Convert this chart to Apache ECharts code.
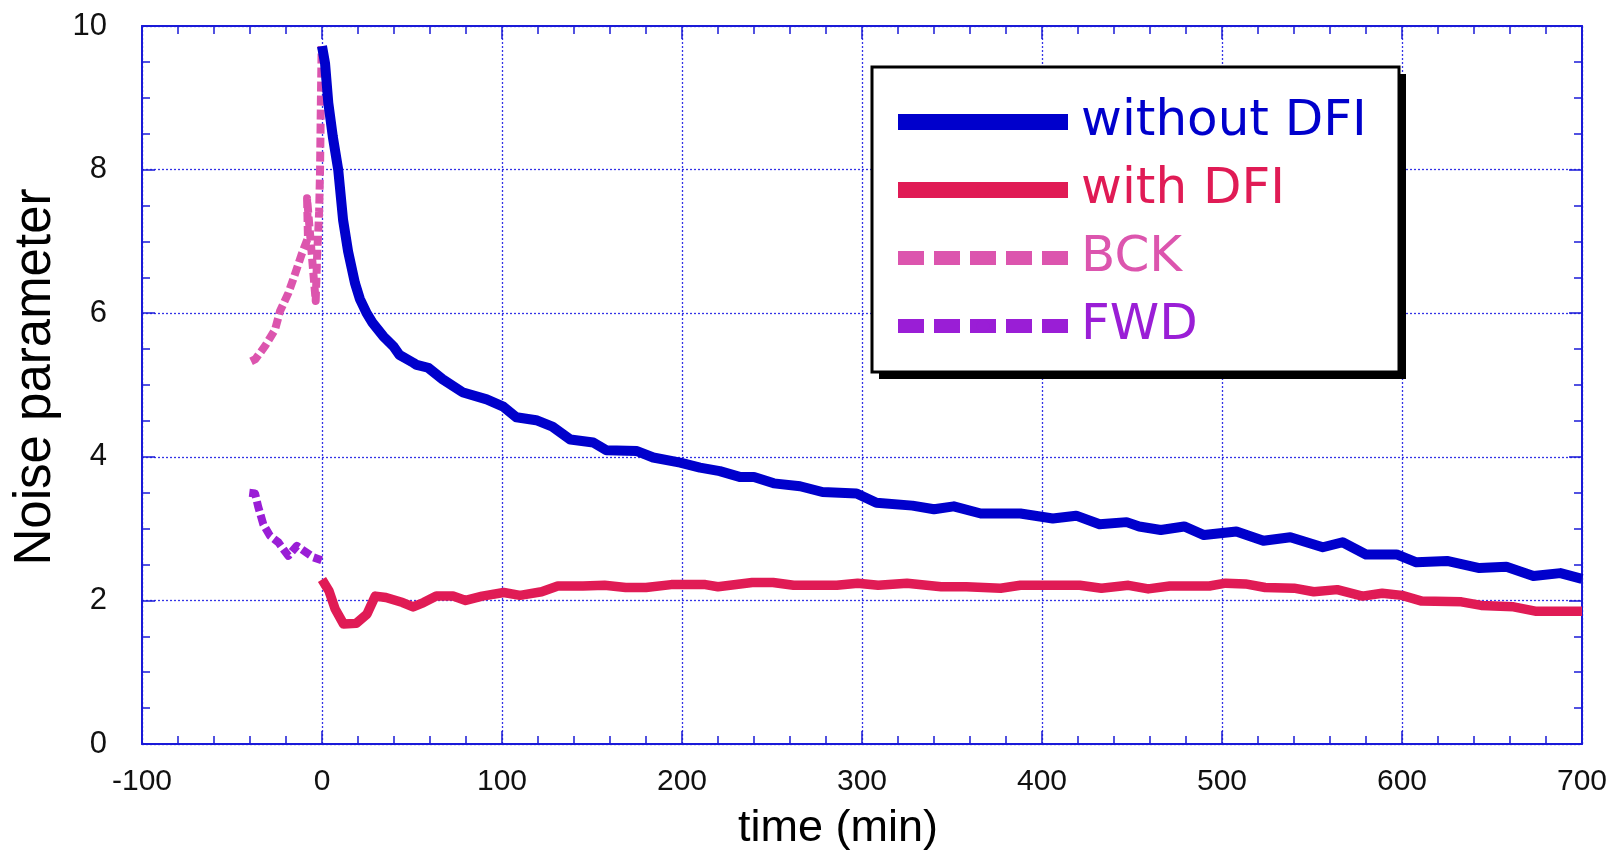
<!DOCTYPE html>
<html>
<head>
<meta charset="utf-8">
<script src="https://cdn.jsdelivr.net/npm/echarts@6/dist/echarts.min.js"></script>
<style>
html,body{margin:0;padding:0;background:#fff;}
#chart{width:1622px;height:856px;}
</style>
</head>
<body>
<div id="chart"></div>
<script>
// ---- data (time in min, noise parameter) ----
const seriesNames = ['without DFI', 'with DFI', 'BCK', 'FWD'];

const withoutDFI = [
  [0,9.72],[1.7,9.48],[3.5,8.93],[6,8.46],[9,8.0],[11.7,7.3],[14.5,6.86],[18.3,6.42],[21,6.2],
  [24.8,6.0],[28,5.87],[34,5.68],[39.6,5.54],[43,5.42],[50.7,5.31],[52.6,5.28],[59,5.24],
  [67,5.08],[78,4.9],[91.5,4.8],[100.7,4.7],[108,4.55],[119,4.51],[128,4.42],[138,4.24],
  [150.7,4.2],[158,4.09],[175,4.08],[184,3.99],[199,3.92],[210,3.85],[221,3.8],[232,3.72],
  [240,3.72],[251,3.63],[265.6,3.59],[278,3.51],[297,3.49],[308,3.36],[328,3.32],[340,3.27],
  [351,3.31],[366,3.21],[388,3.21],[406,3.14],[419,3.18],[432,3.06],[447,3.09],[454,3.03],
  [466,2.98],[479,3.03],[490,2.91],[508,2.96],[523,2.83],[538,2.88],[556,2.74],[567,2.81],
  [580,2.64],[597,2.64],[608,2.53],[625,2.55],[643,2.45],[658,2.47],[673,2.34],[688,2.38],
  [700,2.3]
];

const withDFI = [
  [0,2.29],[3.9,2.13],[7.3,1.88],[12,1.67],[19,1.68],[25,1.81],[29.6,2.06],[35.5,2.04],
  [44.8,1.97],[50.6,1.91],[56.4,1.97],[63.5,2.06],[72.8,2.06],[79.8,2.0],[89,2.06],
  [101,2.11],[110,2.07],[122,2.12],[131,2.2],[145,2.2],[157,2.21],[168.7,2.18],[180,2.18],
  [194,2.22],[213,2.22],[220,2.19],[239,2.25],[250.6,2.25],[262,2.21],[286,2.21],
  [297.6,2.24],[309,2.21],[325,2.24],[344,2.19],[358,2.19],[377,2.17],[388,2.21],[421,2.21],
  [433,2.17],[448,2.21],[459,2.16],[471,2.2],[493,2.2],[502,2.24],[513,2.23],[524,2.18],
  [540,2.17],[551,2.12],[564,2.15],[578,2.06],[589,2.1],[600,2.07],[611,1.99],[633,1.98],
  [644,1.93],[662,1.91],[674,1.85],[700,1.85]
];

const bck = [
  [-39.4,5.33],[-37,5.36],[-31.7,5.54],[-26.1,5.77],[-23.3,6.03],[-18.7,6.28],[-16,6.47],
  [-11.3,6.82],[-7.8,7.05],[-8.3,7.6],[-3.5,6.17],[-2.7,6.81],[-2.1,7.13],[-1.6,7.41],
  [-1.1,7.97],[-0.6,9.0],[-0.2,9.72]
];

const fwd = [
  [-40.4,3.5],[-37.2,3.49],[-35.5,3.31],[-32.6,3.06],[-28.9,2.9],[-24.3,2.81],[-18.7,2.62],
  [-14,2.76],[-4.8,2.6],[-0.2,2.56]
];

const xTicks = { min: -100, max: 700, interval: 100 };
const yTicks = { min: 0, max: 10, interval: 2 };

// ---- styling ----
const colors = ['#0000cc', '#e01b55', '#dc55ae', '#9a1ed6'];
const axisBlue = '#1a1ad8';
const gridBlue = '#3434e6';
const fontFam = '"Liberation Sans", Arial, Helvetica, sans-serif';

const chart = echarts.init(document.getElementById('chart'), null, { renderer: 'canvas' });

function xAxisDef(pos, showLabel) {
  return {
    type: 'value', position: pos,
    min: xTicks.min, max: xTicks.max, interval: xTicks.interval,
    axisLine: { show: true, onZero: false, lineStyle: { color: axisBlue, width: 2 } },
    axisTick: { show: true, inside: true, length: 13, lineStyle: { color: axisBlue, width: 1.5 } },
    minorTick: { show: true, splitNumber: 5, length: 8, lineStyle: { color: axisBlue, width: 1.5 } },
    axisLabel: { show: showLabel, margin: 23, color: '#111', fontSize: 30, fontFamily: fontFam },
    splitLine: { show: showLabel, lineStyle: { color: gridBlue, width: 1.3, type: [2, 2] } }
  };
}
function yAxisDef(pos, showLabel) {
  return {
    type: 'value', position: pos,
    min: yTicks.min, max: yTicks.max, interval: yTicks.interval,
    axisLine: { show: true, onZero: false, lineStyle: { color: axisBlue, width: 2 } },
    axisTick: { show: true, inside: true, length: 13, lineStyle: { color: axisBlue, width: 1.5 } },
    minorTick: { show: true, splitNumber: 4, length: 8, lineStyle: { color: axisBlue, width: 1.5 } },
    axisLabel: { show: showLabel, margin: 35, color: '#111', fontSize: 31, fontFamily: fontFam },
    splitLine: { show: showLabel, lineStyle: { color: gridBlue, width: 1.3, type: [2, 2] } }
  };
}

const xMain = xAxisDef('bottom', true);
xMain.name = 'time (min)';
xMain.nameLocation = 'middle';
xMain.nameGap = 62;
xMain.nameTextStyle = { fontSize: 45, color: '#000', fontFamily: fontFam, padding: [0, 48, 0, 0] };

const yMain = yAxisDef('left', true);
yMain.name = 'Noise parameter';
yMain.nameLocation = 'middle';
yMain.nameGap = 80;
yMain.nameTextStyle = { fontSize: 51, color: '#000', fontFamily: fontFam, padding: [0, 0, 0, 16] };

const xTop = xAxisDef('top', false);
const yRight = yAxisDef('right', false);

function lineSeries(name, data, color, width, dash, z) {
  return {
    name: name, type: 'line', data: data,
    xAxisIndex: 0, yAxisIndex: 0,
    symbol: 'none', smooth: false, z: z,
    lineStyle: { color: color, width: width, type: dash || 'solid', join: 'round' },
    itemStyle: { color: color },
    emphasis: { disabled: true },
    silent: true
  };
}

const legendTextBase = { fontSize: 50, fontFamily: '"DejaVu Sans", sans-serif', lineHeight: 50, padding: [0, 0, 0, 8] };

// legend frame (decoration): box with hard black drop shadow
const legendBox = { x: 872, y: 67, w: 527, h: 305, shadow: 7 };

const option = {
  animation: false,
  backgroundColor: '#ffffff',
  grid: { left: 142, right: 40, top: 26, bottom: 111, containLabel: false },
  xAxis: [xMain, xTop],
  yAxis: [yMain, yRight],
  graphic: [
    { type: 'rect', z: 20, silent: true,
      shape: { x: legendBox.x + legendBox.shadow, y: legendBox.y + legendBox.shadow, width: legendBox.w, height: legendBox.h },
      style: { fill: '#000' } },
    { type: 'rect', z: 21, silent: true,
      shape: { x: legendBox.x, y: legendBox.y, width: legendBox.w, height: legendBox.h },
      style: { fill: '#fff', stroke: '#000', lineWidth: 3 } }
  ],
  legend: {
    z: 30,
    orient: 'vertical',
    left: 890, top: 97,
    padding: 0,
    itemGap: 18,
    itemWidth: 170, itemHeight: 16,
    selectedMode: false,
    textStyle: legendTextBase,
    data: [
      { name: seriesNames[0], textStyle: Object.assign({}, legendTextBase, { color: colors[0] }), lineStyle: { width: 16, color: colors[0] } },
      { name: seriesNames[1], textStyle: Object.assign({}, legendTextBase, { color: colors[1] }), lineStyle: { width: 16, color: colors[1] } },
      { name: seriesNames[2], textStyle: Object.assign({}, legendTextBase, { color: colors[2] }), lineStyle: { width: 14, color: colors[2], type: [26, 10] } },
      { name: seriesNames[3], textStyle: Object.assign({}, legendTextBase, { color: colors[3] }), lineStyle: { width: 14, color: colors[3], type: [26, 10] } }
    ]
  },
  series: [
    lineSeries(seriesNames[2], bck, colors[2], 8, [10, 4], 2),
    lineSeries(seriesNames[3], fwd, colors[3], 8, [10, 4], 2),
    lineSeries(seriesNames[1], withDFI, colors[1], 9.5, 'solid', 3),
    lineSeries(seriesNames[0], withoutDFI, colors[0], 10, 'solid', 4)
  ]
};

chart.setOption(option);
</script>
</body>
</html>
